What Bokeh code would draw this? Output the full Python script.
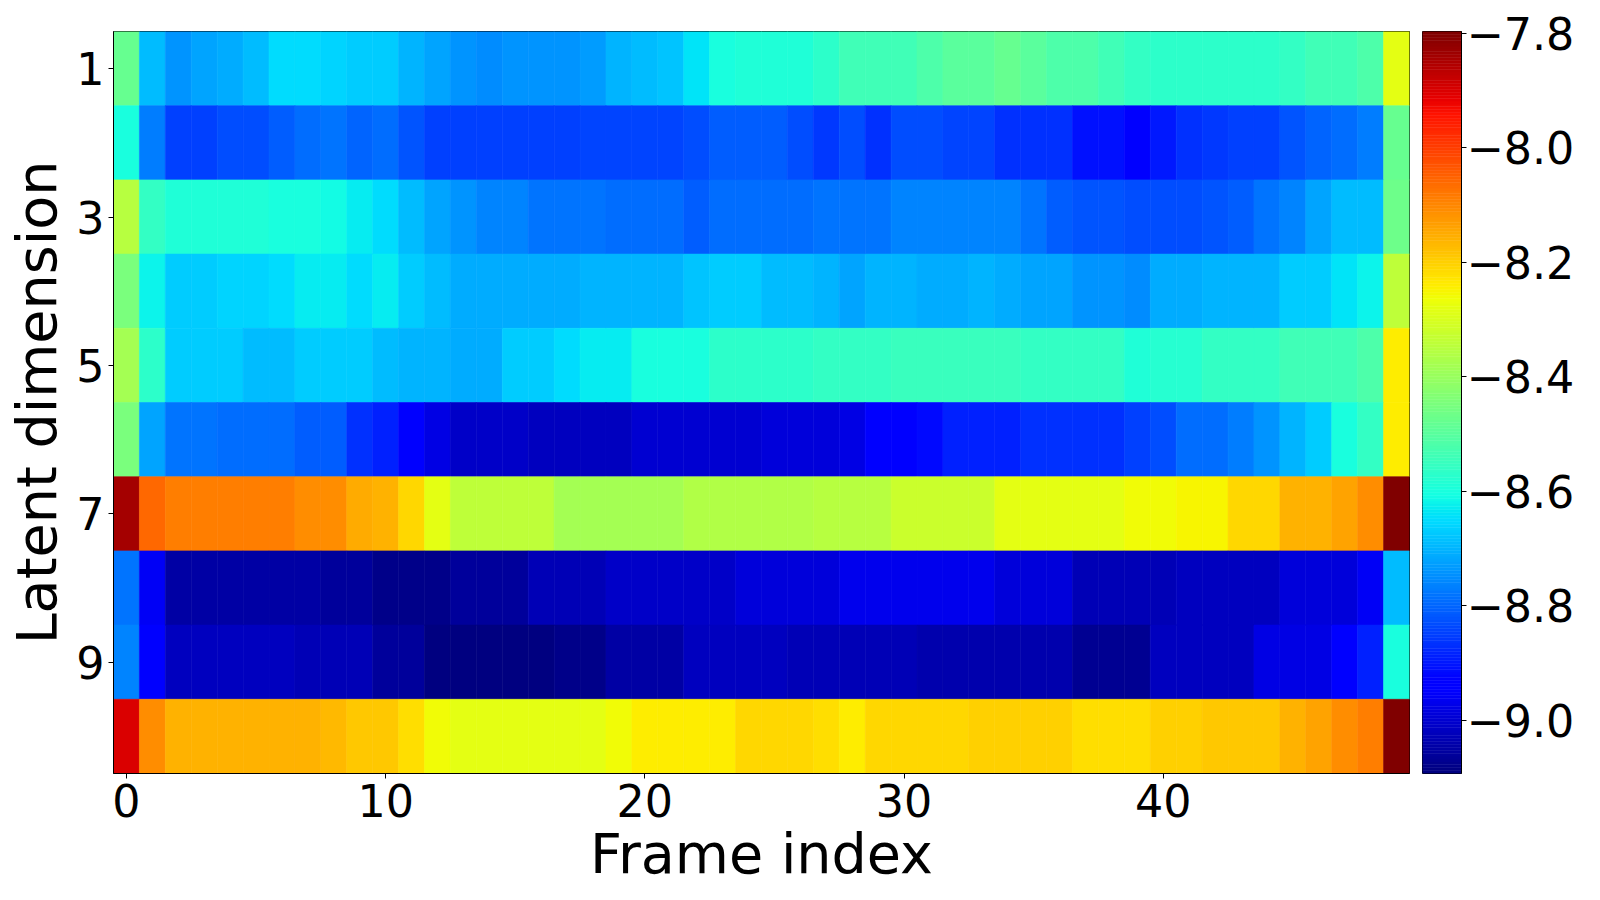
import numpy as np
from bokeh.plotting import figure
from bokeh.models import Range1d, FixedTicker, CustomJSTickFormatter, ColumnDataSource, LinearColorMapper
from bokeh.layouts import row
from bokeh.transform import transform
from bokeh.embed import file_html
from bokeh.resources import INLINE

# ---------------- data ----------------
frames = list(range(50))
dims = list(range(1, 11))

dim1 = [-8.48, -8.69, -8.74, -8.72, -8.71, -8.69, -8.65, -8.65, -8.66, -8.67,
        -8.67, -8.70, -8.72, -8.74, -8.75, -8.74, -8.74, -8.74, -8.73, -8.70,
        -8.69, -8.68, -8.64, -8.60, -8.59, -8.59, -8.59, -8.57, -8.54, -8.54,
        -8.54, -8.52, -8.50, -8.50, -8.48, -8.50, -8.52, -8.52, -8.54, -8.56,
        -8.57, -8.57, -8.57, -8.57, -8.57, -8.56, -8.54, -8.54, -8.52, -8.28]
dim2 = [-8.60, -8.77, -8.85, -8.85, -8.83, -8.83, -8.81, -8.79, -8.78, -8.80,
        -8.79, -8.82, -8.85, -8.85, -8.85, -8.85, -8.85, -8.85, -8.84, -8.84,
        -8.84, -8.84, -8.83, -8.81, -8.81, -8.81, -8.83, -8.86, -8.83, -8.87,
        -8.83, -8.83, -8.84, -8.84, -8.87, -8.87, -8.87, -8.91, -8.91, -8.94,
        -8.90, -8.87, -8.86, -8.85, -8.85, -8.82, -8.80, -8.79, -8.77, -8.48]
dim3 = [-8.35, -8.56, -8.59, -8.59, -8.59, -8.59, -8.60, -8.60, -8.61, -8.63,
        -8.65, -8.69, -8.72, -8.74, -8.76, -8.76, -8.78, -8.78, -8.78, -8.79,
        -8.79, -8.79, -8.81, -8.79, -8.79, -8.79, -8.79, -8.78, -8.78, -8.78,
        -8.76, -8.76, -8.76, -8.76, -8.76, -8.78, -8.81, -8.82, -8.82, -8.83,
        -8.83, -8.83, -8.82, -8.81, -8.78, -8.76, -8.72, -8.69, -8.69, -8.47]
dim4 = [-8.45, -8.62, -8.67, -8.67, -8.66, -8.66, -8.65, -8.63, -8.63, -8.65,
        -8.63, -8.67, -8.69, -8.71, -8.71, -8.71, -8.71, -8.71, -8.70, -8.70,
        -8.70, -8.70, -8.68, -8.67, -8.67, -8.69, -8.69, -8.70, -8.72, -8.70,
        -8.70, -8.71, -8.71, -8.70, -8.71, -8.72, -8.72, -8.74, -8.74, -8.75,
        -8.71, -8.71, -8.70, -8.70, -8.70, -8.67, -8.67, -8.64, -8.62, -8.34]
dim5 = [-8.38, -8.57, -8.67, -8.67, -8.67, -8.69, -8.69, -8.67, -8.67, -8.67,
        -8.69, -8.70, -8.70, -8.71, -8.71, -8.67, -8.67, -8.65, -8.63, -8.63,
        -8.60, -8.60, -8.60, -8.57, -8.57, -8.57, -8.57, -8.56, -8.56, -8.56,
        -8.55, -8.55, -8.55, -8.55, -8.55, -8.56, -8.56, -8.56, -8.56, -8.59,
        -8.58, -8.58, -8.56, -8.56, -8.56, -8.54, -8.54, -8.54, -8.52, -8.24]
dim6 = [-8.45, -8.72, -8.78, -8.78, -8.79, -8.79, -8.79, -8.81, -8.81, -8.87,
        -8.89, -8.94, -8.98, -9.01, -9.01, -9.01, -9.02, -9.02, -9.02, -9.02,
        -9.00, -9.00, -9.00, -9.00, -9.00, -8.99, -8.99, -8.99, -8.98, -8.95,
        -8.95, -8.92, -8.89, -8.89, -8.89, -8.87, -8.87, -8.87, -8.87, -8.85,
        -8.83, -8.79, -8.79, -8.77, -8.74, -8.70, -8.67, -8.60, -8.56, -8.24]
dim7 = [-7.84, -8.06, -8.09, -8.09, -8.09, -8.09, -8.09, -8.11, -8.11, -8.15,
        -8.16, -8.21, -8.28, -8.34, -8.34, -8.34, -8.34, -8.38, -8.38, -8.38,
        -8.38, -8.38, -8.36, -8.36, -8.36, -8.36, -8.36, -8.35, -8.35, -8.35,
        -8.32, -8.32, -8.32, -8.32, -8.28, -8.28, -8.28, -8.28, -8.28, -8.26,
        -8.26, -8.25, -8.25, -8.21, -8.21, -8.16, -8.16, -8.14, -8.11, -7.80]
dim8 = [-8.78, -8.96, -9.05, -9.05, -9.05, -9.05, -9.05, -9.05, -9.06, -9.06,
        -9.08, -9.08, -9.08, -9.06, -9.06, -9.06, -9.03, -9.03, -9.03, -9.01,
        -9.01, -9.01, -9.01, -9.01, -8.99, -8.99, -8.99, -8.99, -8.97, -8.97,
        -8.97, -8.97, -8.97, -8.97, -8.99, -8.99, -8.99, -9.03, -9.03, -9.03,
        -9.03, -9.02, -9.02, -9.02, -9.02, -8.99, -8.99, -8.99, -8.96, -8.69]
dim9 = [-8.76, -8.94, -9.02, -9.02, -9.02, -9.02, -9.02, -9.03, -9.03, -9.03,
        -9.06, -9.06, -9.09, -9.09, -9.09, -9.09, -9.09, -9.08, -9.08, -9.05,
        -9.05, -9.05, -9.02, -9.02, -9.02, -9.02, -9.03, -9.03, -9.03, -9.03,
        -9.03, -9.04, -9.04, -9.04, -9.04, -9.04, -9.04, -9.07, -9.07, -9.07,
        -9.02, -9.02, -9.02, -9.02, -8.98, -8.98, -8.98, -8.94, -8.89, -8.60]
dim10 = [-7.90, -8.11, -8.16, -8.16, -8.16, -8.16, -8.16, -8.16, -8.17, -8.19,
         -8.19, -8.22, -8.26, -8.28, -8.28, -8.28, -8.28, -8.28, -8.28, -8.26,
         -8.24, -8.24, -8.24, -8.24, -8.21, -8.21, -8.21, -8.22, -8.24, -8.21,
         -8.21, -8.21, -8.21, -8.20, -8.20, -8.20, -8.20, -8.22, -8.22, -8.22,
         -8.20, -8.20, -8.19, -8.19, -8.19, -8.16, -8.14, -8.11, -8.09, -7.80]

rows_data = [dim1, dim2, dim3, dim4, dim5, dim6, dim7, dim8, dim9, dim10]

x_ticks = [0, 10, 20, 30, 40]
y_ticks = [1, 3, 5, 7, 9]
cbar_ticks = [-9.0, -8.8, -8.6, -8.4, -8.2, -8.0, -7.8]
vmin, vmax = -9.093, -7.797

# ---------------- jet palette ----------------
def jet(n=256):
    t = np.linspace(0, 1, n)
    r = np.interp(t, [0, 0.35, 0.66, 0.89, 1], [0, 0, 1, 1, 0.5])
    g = np.interp(t, [0, 0.125, 0.375, 0.64, 0.91, 1], [0, 0, 1, 1, 0, 0])
    b = np.interp(t, [0, 0.11, 0.34, 0.65, 1], [0.5, 1, 1, 0, 0])
    return ["#%02x%02x%02x" % (int(round(rr * 255)), int(round(gg * 255)), int(round(bb * 255)))
            for rr, gg, bb in zip(r, g, b)]

palette = jet(256)
mapper = LinearColorMapper(palette=palette, low=vmin, high=vmax)

xs, ys, vs = [], [], []
for d, vals in zip(dims, rows_data):
    for f, v in zip(frames, vals):
        xs.append(f)
        ys.append(d)
        vs.append(v)
src = ColumnDataSource(dict(x=xs, y=ys, v=vs))

FONT = "DejaVu Sans"
TICK_FS = "44.4px"
LABEL_FS = "55.6px"

TOP = 31
BOTTOM = 115

p = figure(x_range=Range1d(-0.5, 49.5), y_range=Range1d(10.5, 0.5),
           frame_width=1296, frame_height=742,
           min_border_left=113, min_border_right=13, min_border_top=TOP, min_border_bottom=BOTTOM,
           output_backend="svg", toolbar_location=None)
p.rect(x="x", y="y", width=1, height=1, source=src,
       fill_color=transform("v", mapper), line_color=transform("v", mapper), line_width=0.6)

p.xgrid.visible = False
p.ygrid.visible = False
p.outline_line_color = "black"
p.outline_line_width = 1
p.background_fill_color = "white"
p.border_fill_color = "white"

p.xaxis.ticker = FixedTicker(ticks=x_ticks)
p.yaxis.ticker = FixedTicker(ticks=y_ticks)
p.xaxis.axis_label = "Frame index"
p.yaxis.axis_label = "Latent dimension"
for ax in (p.xaxis, p.yaxis):
    ax.minor_tick_line_color = None
    ax.major_tick_out = 5
    ax.major_tick_in = 0
    ax.major_tick_line_width = 1
    ax.major_tick_line_color = "black"
    ax.axis_line_color = "black"
    ax.axis_line_width = 1
    ax.major_label_text_font = FONT
    ax.major_label_text_font_size = TICK_FS
    ax.major_label_text_color = "black"
    ax.axis_label_text_font = FONT
    ax.axis_label_text_font_size = LABEL_FS
    ax.axis_label_text_font_style = "normal"
    ax.axis_label_text_color = "black"
p.xaxis.major_label_standoff = 5
p.xaxis.axis_label_standoff = 1
p.yaxis.major_label_standoff = 4
p.yaxis.axis_label_standoff = 4

# ---------------- colorbar ----------------
edges = np.linspace(vmin, vmax, len(palette) + 1)
cb_src = ColumnDataSource(dict(bottom=edges[:-1], top=edges[1:], color=palette))
cb = figure(x_range=Range1d(0, 1), y_range=Range1d(vmin, vmax),
            frame_width=39, frame_height=742,
            min_border_left=0, min_border_right=120, min_border_top=TOP, min_border_bottom=BOTTOM,
            x_axis_location=None, y_axis_location="right",
            output_backend="svg", toolbar_location=None)
cb.quad(left=0, right=1, bottom="bottom", top="top", fill_color="color", line_color="color",
        line_width=0.5, source=cb_src)
cb.xgrid.visible = False
cb.ygrid.visible = False
cb.outline_line_color = "black"
cb.outline_line_width = 1
cb.border_fill_color = "white"
ax = cb.yaxis
ax.ticker = FixedTicker(ticks=cbar_ticks)
ax.formatter = CustomJSTickFormatter(code="return (tick < 0 ? '\u2212' : '') + Math.abs(tick).toFixed(1);")
ax.minor_tick_line_color = None
ax.major_tick_out = 5
ax.major_tick_in = 0
ax.major_tick_line_width = 1
ax.major_tick_line_color = "black"
ax.axis_line_color = "black"
ax.major_label_text_font = FONT
ax.major_label_text_font_size = TICK_FS
ax.major_label_text_color = "black"
ax.major_label_standoff = 0

layout = row(p, cb)
open("out.html", "w").write(file_html(layout, INLINE))
